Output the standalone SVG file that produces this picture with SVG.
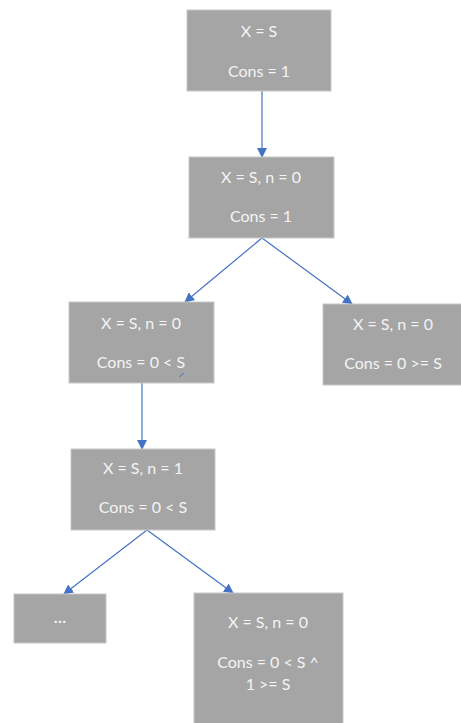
<svg xmlns="http://www.w3.org/2000/svg" width="461" height="723" viewBox="0 0 461 723">
  <style>
    .box { fill: #a5a5a5; stroke: #c8c8c8; stroke-width: 1; }
    .lbl { font-family: Lato, "Open Sans", "Liberation Sans", sans-serif; font-size: 16px; fill: #f4f4f4; text-anchor: middle; dominant-baseline: central; }
    .edge { stroke: #4472c4; stroke-width: 1.2; fill: none; marker-end: url(#arrow); }
  </style>
  <defs>
    <marker id="arrow" viewBox="0 0 10 10" refX="9" refY="5" markerWidth="10" markerHeight="10" markerUnits="userSpaceOnUse" orient="auto">
      <path d="M0,0 L10,5 L0,10 Z" fill="#4472c4"/>
    </marker>
  </defs>

  <rect width="461" height="723" fill="#ffffff"/>

  <g id="connectors">
    <line class="edge" x1="262" y1="91" x2="262" y2="157"/>
    <line class="edge" x1="262" y1="238" x2="185" y2="302"/>
    <line class="edge" x1="262" y1="238" x2="352" y2="304"/>
    <line class="edge" x1="142" y1="383" x2="142" y2="449"/>
    <line class="edge" x1="147" y1="530" x2="64" y2="594"/>
    <line class="edge" x1="147" y1="530" x2="233" y2="593"/>
  </g>

  <g id="node-root">
    <rect class="box" x="187" y="10" width="144" height="81"/>
    <text class="lbl" x="259" y="30">X = S</text>
    <text class="lbl" x="259" y="70">Cons = 1</text>
  </g>

  <g id="node-n0">
    <rect class="box" x="189" y="157" width="145" height="81"/>
    <text class="lbl" x="261" y="176">X = S, n = 0</text>
    <text class="lbl" x="261" y="215">Cons = 1</text>
  </g>

  <g id="node-left">
    <rect class="box" x="69" y="302" width="145" height="81"/>
    <text class="lbl" x="141" y="322">X = S, n = 0</text>
    <text class="lbl" x="141" y="361">Cons = 0 &lt; S</text>
    <line x1="179" y1="377" x2="184" y2="373" stroke="#4472c4" stroke-width="1"/>
  </g>

  <g id="node-right">
    <rect class="box" x="323" y="304" width="139" height="81"/>
    <text class="lbl" x="393" y="323">X = S, n = 0</text>
    <text class="lbl" x="393" y="362">Cons = 0 &gt;= S</text>
  </g>

  <g id="node-n1">
    <rect class="box" x="71" y="449" width="144" height="81"/>
    <text class="lbl" x="143" y="467">X = S, n = 1</text>
    <text class="lbl" x="143" y="506">Cons = 0 &lt; S</text>
  </g>

  <g id="node-more">
    <rect class="box" x="14" y="594" width="92" height="49"/>
    <text class="lbl" x="60" y="616" style="font-weight:bold">…</text>
  </g>

  <g id="node-final">
    <rect class="box" x="194" y="593" width="149" height="131"/>
    <text class="lbl" x="268" y="621">X = S, n = 0</text>
    <text class="lbl" x="268" y="661">Cons = 0 &lt; S ^</text>
    <text class="lbl" x="268" y="683">1 &gt;= S</text>
  </g>
</svg>
